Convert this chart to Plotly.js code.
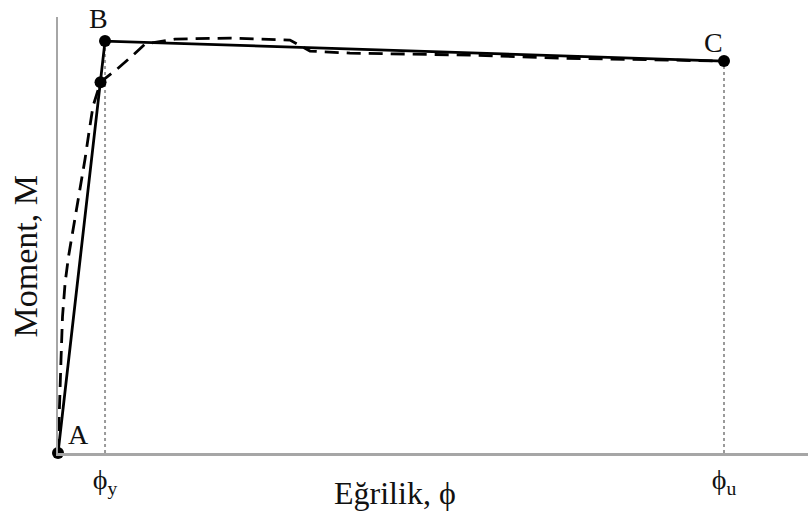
<!DOCTYPE html>
<html>
<head>
<meta charset="utf-8">
<script src="https://cdn.plot.ly/plotly-3.0.1.min.js"></script>
<style>
  html, body { margin: 0; padding: 0; background: #fff; }
  #chart { width: 808px; height: 514px; }
</style>
</head>
<body>
<div id="chart"></div>
<script>
// Idealised (bilinear) moment-curvature relation: A -> B -> C
const idealCurv   = [0, 6.27, 88.8];
const idealMoment = [0, 94.48, 89.89];

// First-yield point lying on the A-B branch
const yieldCurv   = [5.67];
const yieldMoment = [85.06];

// Actual (measured) moment-curvature curve
const actualCurv   = [0, 0.13, 0.4, 0.6, 0.95, 1.4, 1.95, 2.93, 3.6, 4.13, 4.67, 5.67,
                      7.87, 9.87, 11.6, 15.6, 22.93, 30.93, 33.6, 38.93, 48.27, 54.93, 66.93, 88.8];
const actualMoment = [0, 8.28, 21.38, 31.26, 39.08, 45.06, 50.5, 61.15, 67.36, 73.56, 79.54, 85.06,
                      88.05, 91.03, 93.79, 94.94, 95.17, 94.71, 92.18, 91.72, 91.49, 91.26, 90.57, 89.89];

// Key points and their labels
const pointLabels = ['A', 'B', 'C'];

// Curvature ticks
const tickVals  = [6.27, 88.8];
const tickTexts = ['ϕ<sub>y</sub>', 'ϕ<sub>u</sub>'];

// Axis titles
const xTitle = 'Eğrilik, ϕ';
const yTitle = 'Moment, M';

const serif = 'Liberation Serif, Times New Roman, serif';

const traces = [
  // dotted guides from B and C down to the curvature axis
  {
    x: [tickVals[0], tickVals[0]], y: [0, idealMoment[1]],
    mode: 'lines', line: {color: '#9a9a9a', width: 2, dash: 'dot'},
    hoverinfo: 'skip', showlegend: false
  },
  {
    x: [tickVals[1], tickVals[1]], y: [0, idealMoment[2]],
    mode: 'lines', line: {color: '#9a9a9a', width: 2, dash: 'dot'},
    hoverinfo: 'skip', showlegend: false
  },
  {
    x: actualCurv, y: actualMoment,
    mode: 'lines', line: {color: '#000', width: 2.8, dash: '14px,8px'},
    showlegend: false, cliponaxis: false
  },
  {
    x: idealCurv, y: idealMoment,
    mode: 'lines+markers', line: {color: '#000', width: 2.8},
    marker: {color: '#000', size: 12},
    showlegend: false, cliponaxis: false
  },
  {
    x: yieldCurv, y: yieldMoment,
    mode: 'markers', marker: {color: '#000', size: 12},
    showlegend: false, cliponaxis: false
  }
];

const pointNotes = [
  {x: idealCurv[0], y: idealMoment[0], text: pointLabels[0], xshift: 20, yshift: 19},
  {x: idealCurv[1], y: idealMoment[1], text: pointLabels[1], xshift: -7, yshift: 23},
  {x: idealCurv[2], y: idealMoment[2], text: pointLabels[2], xshift: -11, yshift: 19}
].map(a => Object.assign(a, {
  xref: 'x', yref: 'y', showarrow: false,
  font: {family: serif, size: 28, color: '#111'}
}));

const titleNotes = [
  {
    text: xTitle, xref: 'x', yref: 'paper', x: 44.9, y: 0,
    yanchor: 'middle', yshift: -40,
    font: {family: serif, size: 32, color: '#111'}
  },
  {
    text: yTitle, xref: 'paper', yref: 'y', x: 0, y: 45.06,
    xanchor: 'center', xshift: -32, textangle: -90,
    font: {family: serif, size: 34, color: '#111'}
  }
].map(a => Object.assign(a, {showarrow: false}));

const layout = {
  width: 808, height: 514,
  margin: {l: 58, r: 0, t: 17, b: 61},
  paper_bgcolor: '#fff', plot_bgcolor: '#fff',
  xaxis: {
    range: [0, 100], showgrid: false, zeroline: false,
    showline: true, linecolor: '#a6a6a6', linewidth: 2.5,
    tickvals: tickVals, ticktext: tickTexts, ticks: '',
    tickfont: {family: serif, size: 28, color: '#111'},
    fixedrange: true
  },
  yaxis: {
    range: [0, 100], showgrid: false, zeroline: false,
    showline: true, linecolor: '#a6a6a6', linewidth: 2.5,
    showticklabels: false, ticks: '',
    fixedrange: true
  },
  annotations: pointNotes.concat(titleNotes),
  showlegend: false
};

Plotly.newPlot('chart', traces, layout, {displayModeBar: false, staticPlot: true});
</script>
</body>
</html>
